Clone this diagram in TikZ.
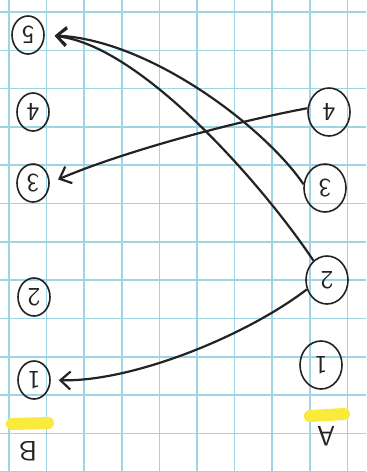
\documentclass[tikz,border=0pt]{standalone}
\usepackage{graphicx}
\usetikzlibrary{arrows.meta,shapes.geometric}
\definecolor{gridblue}{RGB}{160,212,228}
\definecolor{hilite}{RGB}{250,234,60}
\definecolor{pen}{RGB}{35,35,35}
\begin{document}
\begin{tikzpicture}[x=0.5pt,y=-0.5pt,
  gridline/.style={draw=gridblue,line width=0.8pt},
  numA/.style={draw=pen, ellipse, line width=0.8pt, minimum width=21pt, minimum height=24pt, inner sep=0pt, font=\sffamily\fontsize{13}{13}\selectfont, text=pen},
  numB/.style={numA, minimum width=16pt, minimum height=19pt},
  letter/.style={font=\sffamily\fontsize{14}{14}\selectfont, text=pen, rotate=180, inner sep=0pt},
  hlbar/.style={draw=hilite, line width=6pt, line cap=round},
  arr/.style={draw=pen, line width=1.1pt, -{Straight Barb[length=5pt,width=9pt]}}
]
\useasboundingbox (0,0) rectangle (366,472);
\fill[white] (0,0) rectangle (366,472);
\foreach \i in {0,...,9} \draw[gridline] ({9+37.6*\i},0) -- ({9+37.6*\i},472);
\foreach \j in {0,...,12} \draw[gridline] (0,{12+38.3*\j}) -- (366,{12+38.3*\j});
% highlights
\coordinate (hb1) at (12,424); \coordinate (hb2) at (48,423);
\coordinate (ha1) at (310,416); \coordinate (ha2) at (344,414);
\draw[hlbar] (hb1) -- (hb2);
\draw[hlbar] (ha1) -- (ha2);
% left column (B)
\node[numB] (B5) at (28,35) {\rotatebox{180}{5}};
\node[numB] (B4) at (33,112) {\rotatebox{180}{4}};
\node[numB] (B3) at (33,183) {\rotatebox{180}{3}};
\node[numB] (B2) at (34,297) {\rotatebox{180}{2}};
\node[numB] (B1) at (34,380) {\rotatebox{180}{1}};
\node[letter] (labB) at (28,451) {B};
% right column (A)
\node[numA] (A4) at (329,112) {\rotatebox{180}{4}};
\node[numA] (A3) at (325,188) {\rotatebox{180}{3}};
\node[numA] (A2) at (327,280) {\rotatebox{180}{2}};
\node[numA] (A1) at (321,365) {\rotatebox{180}{1}};
\node[letter] (labA) at (326,436) {A};
% connectors
\draw[arr, shorten >=5pt] (A3.170) .. controls +(-38,-56) and +(106,5) .. (B5.east);
\draw[arr, shorten >=5pt] (A2.125) .. controls +(-50,-75) and +(96,10) .. (B5.east);
\draw[arr, shorten >=4.5pt] (A4.170) .. controls +(-80,15) and +(70,-30) .. (B3.east);
\draw[arr, shorten >=4pt] (A2.205) .. controls +(-63,48) and +(80,2) .. (B1.east);
\end{tikzpicture}
\end{document}
